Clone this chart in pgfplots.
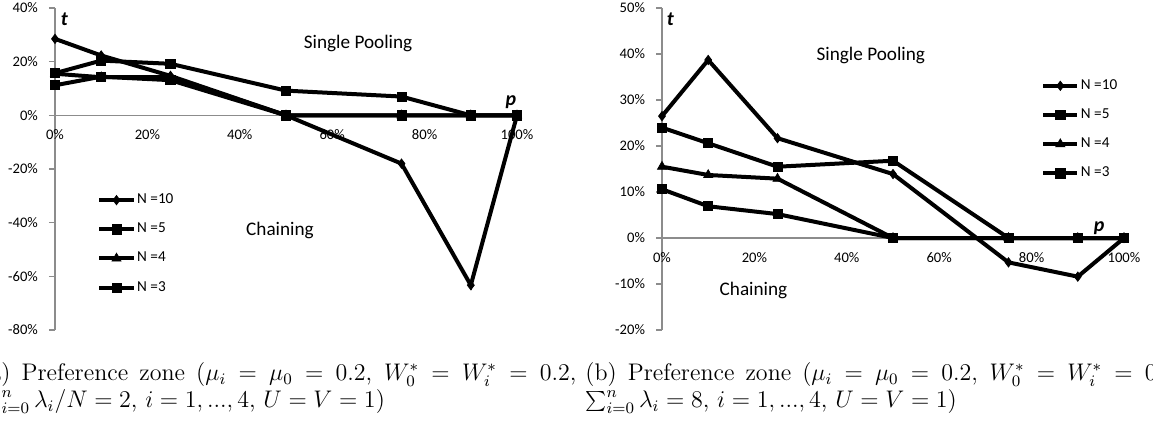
\documentclass[border=0pt]{standalone}
\usepackage{fontspec}
\usepackage{pgfplots}
\pgfplotsset{compat=1.18}
\newfontfamily\carlito{Carlito}

\pgfplotsset{excel/.style={
  scale only axis, width=231pt, height=161pt,
  xmin=0, xmax=100,
  axis x line*=middle, axis y line*=left,
  axis line style={draw=gray!90, line width=0.8pt},
  xtick={0,20,40,60,80,100},
  xticklabels={0\%,20\%,40\%,60\%,80\%,100\%},
  x tick label style={font=\carlito\fontsize{7.3}{8}\selectfont, anchor=north, yshift=-0.5pt},
  y tick label style={font=\carlito\fontsize{7.3}{8}\selectfont, anchor=east, xshift=-2pt},
  xtick style={draw=none},
  ytick style={draw=gray!90, line width=0.8pt},
  major tick length=3pt, tick align=outside,
  hide obscured x ticks=false, hide obscured y ticks=false,
  clip=false,
  legend style={draw=none, fill=none, font=\carlito\fontsize{7.6}{8}\selectfont,
    anchor=north west, row sep=4.2pt, inner sep=0pt, nodes={inner xsep=0.8pt}},
  legend cell align=left,
}}
\tikzset{
  ser/.style={black, line width=2pt, mark options={solid, line width=0.4pt, fill=black, draw=black}},
  sdia/.style={ser, mark=diamond*, mark size=2.3pt},
  ssq/.style={ser, mark=square*, mark size=2.3pt},
  stri/.style={ser, mark=triangle*, mark size=2.6pt},
}

\begin{document}
\begin{tikzpicture}
\useasboundingbox (0,0) rectangle (576.5pt,212.5pt);
\clip (0,0) rectangle (576.5pt,212.5pt);

% ---------------- left chart ----------------
\begin{axis}[excel, at={(27.5pt,47.5pt)}, anchor=south west,
  ymin=-80, ymax=40,
  ytick={-80,-60,-40,-20,0,20,40},
  yticklabels={-80\%,-60\%,-40\%,-20\%,0\%,20\%,40\%},
  legend style={at={(0.091,0.437)}}]
\addplot[sdia] coordinates {(0,28.5) (10,22.3) (25,14.7) (50,0) (75,-18) (90,-63.3) (100,0)};
\addlegendentry{N =10}
\addplot[ssq] coordinates {(0,15.7) (10,20.4) (25,19.2) (50,9.2) (75,7.0) (90,0) (100,0)};
\addlegendentry{N =5}
\addplot[stri] coordinates {(0,15.5) (10,14.2) (25,14.3) (50,0) (75,0) (90,0) (100,0)};
\addlegendentry{N =4}
\addplot[ssq] coordinates {(0,11.2) (10,14.4) (25,13.1) (50,0) (75,0) (90,0) (100,0)};
\addlegendentry{N =3}
\node[font=\carlito\bfseries\itshape\fontsize{10}{12}\selectfont] at (axis cs:2,35.9) {t};
\node[font=\carlito\bfseries\itshape\fontsize{10}{12}\selectfont] at (axis cs:98.7,4.8) {p};
\node[font=\carlito\fontsize{9.6}{11}\selectfont] at (axis cs:65.6,26.9) {Single Pooling};
\node[font=\carlito\fontsize{9.6}{11}\selectfont] at (axis cs:48.7,-42.8) {Chaining};
\end{axis}

% ---------------- right chart ----------------
\begin{axis}[excel, at={(331pt,47.5pt)}, anchor=south west,
  ymin=-20, ymax=50,
  ytick={-20,-10,0,10,20,30,40,50},
  yticklabels={-20\%,-10\%,0\%,10\%,20\%,30\%,40\%,50\%},
  legend style={at={(0.82,0.792)}}]
\addplot[sdia] coordinates {(0,26.5) (10,38.7) (25,21.7) (50,13.9) (75,-5.3) (90,-8.4) (100,0)};
\addlegendentry{N =10}
\addplot[ssq] coordinates {(0,24) (10,20.6) (25,15.5) (50,16.8) (75,0) (90,0) (100,0)};
\addlegendentry{N =5}
\addplot[stri] coordinates {(0,15.5) (10,13.7) (25,12.9) (50,0) (75,0) (90,0) (100,0)};
\addlegendentry{N =4}
\addplot[ssq] coordinates {(0,10.6) (10,6.9) (25,5.2) (50,0) (75,0) (90,0) (100,0)};
\addlegendentry{N =3}
\node[font=\carlito\bfseries\itshape\fontsize{10}{12}\selectfont] at (axis cs:1.8,47.6) {t};
\node[font=\carlito\bfseries\itshape\fontsize{10}{12}\selectfont] at (axis cs:94.6,2.2) {p};
\node[font=\carlito\fontsize{9.6}{11}\selectfont] at (axis cs:45.2,39.6) {Single Pooling};
\node[font=\carlito\fontsize{9.6}{11}\selectfont] at (axis cs:19.8,-11.3) {Chaining};
\end{axis}

% ---------------- captions ----------------
\node[anchor=north west, inner sep=0pt, text width=298pt, align=justify,
  font={\fontsize{12}{13.5}\selectfont\lineskiplimit=-20pt}] at (-10pt,31.5pt)
  {(a) Preference zone ($\mu_i=\mu_0=0.2$, $W_0^*=W_i^*=0.2$,\linebreak
   $\sum_{i=0}^n\lambda_i/N=2$, $i=1,...,4$, $U=V=1$)};
\node[anchor=north west, inner sep=0pt, text width=298pt, align=justify,
  font={\fontsize{12}{13.5}\selectfont\lineskiplimit=-20pt}] at (292.5pt,31.5pt)
  {(b) Preference zone ($\mu_i=\mu_0=0.2$, $W_0^*=W_i^*=0.2$,\linebreak
   $\sum_{i=0}^n\lambda_i=8$, $i=1,...,4$, $U=V=1$)};
\end{tikzpicture}
\end{document}
